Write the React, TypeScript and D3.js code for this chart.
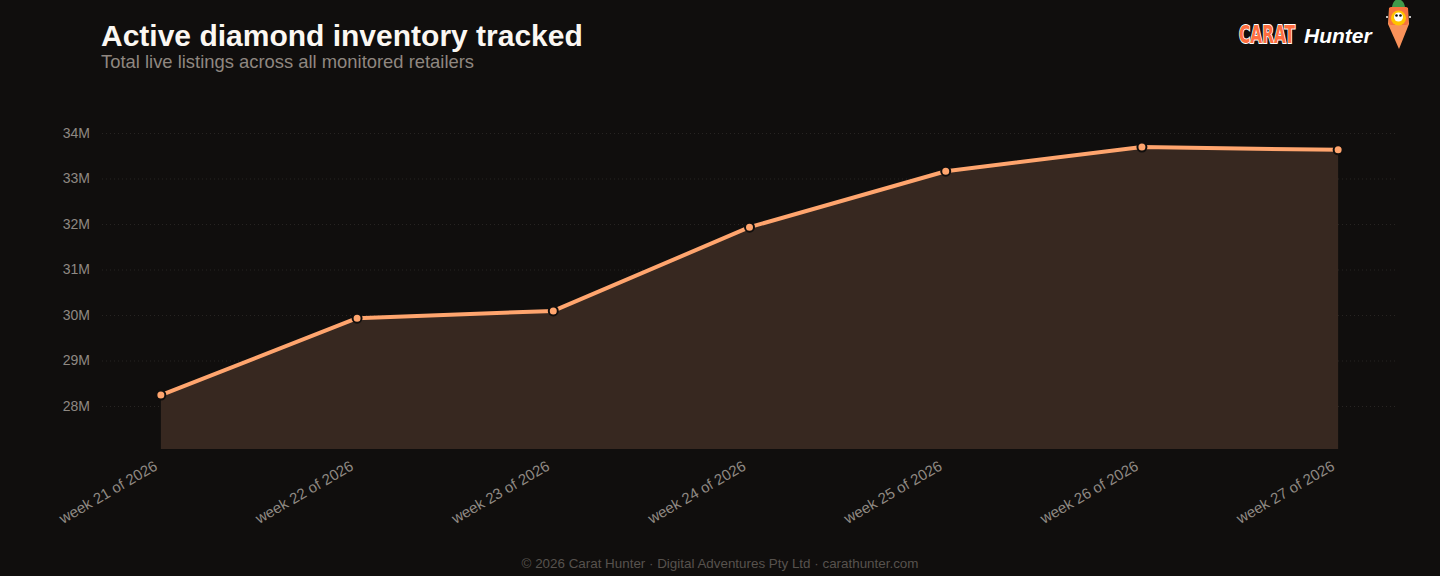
import React, { useEffect, useRef } from 'react';
import * as d3 from 'd3';

const weeks = [
    'week 21 of 2026',
    'week 22 of 2026',
    'week 23 of 2026',
    'week 24 of 2026',
    'week 25 of 2026',
    'week 26 of 2026',
    'week 27 of 2026',
];
const listings = [28.24e6, 29.93e6, 30.09e6, 31.93e6, 33.16e6, 33.69e6, 33.63e6];
const yTicks = [28e6, 29e6, 30e6, 31e6, 32e6, 33e6, 34e6];

const BG = '#100e0d';
const ACCENT = '#ffa56e';

const App: React.FC = () => {
    const svgRef = useRef<SVGSVGElement | null>(null);

    useEffect(() => {
        document.body.style.margin = '0';
        const svg = d3.select(svgRef.current);
        svg.selectAll('*').remove();

        const width = 1440;
        const height = 576;
        const margin = { top: 100, right: 43, bottom: 127, left: 102 };
        const font = 'Liberation Sans, Arial, sans-serif';

        svg.append('rect').attr('width', width).attr('height', height).attr('fill', BG);

        const x = d3.scalePoint<string>()
            .domain(weeks)
            .range([margin.left, width - margin.right])
            .padding(0.3);

        const y = d3.scaleLinear()
            .domain([27.055e6, 34.725e6])
            .range([height - margin.bottom, margin.top]);

        // gridlines + y labels
        const yAxis = svg.append('g')
            .attr('transform', `translate(${margin.left},0)`)
            .call(d3.axisLeft(y)
                .tickValues(yTicks)
                .tickSize(-(width - margin.left - margin.right))
                .tickPadding(12)
                .tickFormat(d => `${(d as number) / 1e6}M`));
        yAxis.select('.domain').remove();
        yAxis.selectAll('line')
            .attr('stroke', '#282523')
            .attr('stroke-dasharray', '1,3');
        yAxis.selectAll('text')
            .attr('fill', '#8f8983')
            .attr('font-family', font)
            .attr('font-size', 14);

        // area + line
        const pts = weeks.map((w, i) => ({ w, v: listings[i] }));
        const area = d3.area<{ w: string; v: number }>()
            .x(d => x(d.w)!)
            .y0(y.range()[0])
            .y1(d => y(d.v));
        svg.append('path')
            .datum(pts)
            .attr('d', area)
            .attr('fill', '#372820');

        const line = d3.line<{ w: string; v: number }>()
            .x(d => x(d.w)!)
            .y(d => y(d.v));
        svg.append('path')
            .datum(pts)
            .attr('d', line)
            .attr('fill', 'none')
            .attr('stroke', ACCENT)
            .attr('stroke-width', 4)
            .attr('stroke-linejoin', 'round');

        svg.append('g')
            .selectAll('circle')
            .data(pts)
            .enter()
            .append('circle')
            .attr('cx', d => x(d.w)!)
            .attr('cy', d => y(d.v))
            .attr('r', 4.5)
            .attr('fill', ACCENT)
            .attr('stroke', BG)
            .attr('stroke-width', 2);

        // x labels
        const xAxis = svg.append('g')
            .attr('transform', `translate(0,${height - margin.bottom})`)
            .call(d3.axisBottom(x).tickSize(0).tickPadding(0));
        xAxis.select('.domain').remove();
        xAxis.selectAll('text')
            .attr('fill', '#8f8983')
            .attr('font-family', font)
            .attr('font-size', 15)
            .attr('text-anchor', 'end')
            .attr('y', 0)
            .attr('dy', 0)
            .attr('transform', 'translate(-3,20) rotate(-30)');

        // title
        svg.append('text')
            .attr('x', 101).attr('y', 46)
            .attr('fill', '#fbf7f2')
            .attr('font-family', font)
            .attr('font-weight', 'bold')
            .attr('font-size', 30)
            .text('Active diamond inventory tracked');
        svg.append('text')
            .attr('x', 101).attr('y', 68)
            .attr('fill', '#8f8780')
            .attr('font-family', font)
            .attr('font-size', 18.4)
            .text('Total live listings across all monitored retailers');

        // footer
        svg.append('text')
            .attr('x', width / 2).attr('y', 568)
            .attr('text-anchor', 'middle')
            .attr('fill', '#57524d')
            .attr('font-family', font)
            .attr('font-size', 13.4)
            .text('© 2026 Carat Hunter · Digital Adventures Pty Ltd · carathunter.com');

        // logo: "CARAT" squeezed horizontally with a transform so its box stays tight
        const logo = svg.append('g');
        const carat = logo.append('text')
            .attr('x', 0).attr('y', 0)
            .attr('fill', '#ff6e40')
            .attr('stroke', '#ffffff')
            .attr('stroke-width', 2)
            .attr('paint-order', 'stroke')
            .attr('font-family', 'DejaVu Sans Condensed, Liberation Sans Narrow, sans-serif')
            .attr('font-weight', 'bold')
            .attr('font-size', 25)
            .text('CARAT');
        const natural = (carat.node() as SVGTextElement).getComputedTextLength() || 80;
        carat.attr('transform', `translate(1239,43) scale(${56 / natural},1)`);
        logo.append('text')
            .attr('x', 1304).attr('y', 43)
            .attr('fill', '#ffffff')
            .attr('font-family', font)
            .attr('font-weight', 'bold')
            .attr('font-style', 'italic')
            .attr('font-size', 21)
            .text('Hunter');
        // carrot mascot
        logo.append('path')
            .attr('d', 'M1392,7 Q1393,0 1398,-1 Q1404,0 1405,7 Z')
            .attr('fill', '#3f9a4a');
        logo.append('path')
            .attr('d', 'M1389,8 L1408,8 L1409,24 L1399,49 L1388,24 Z')
            .attr('fill', '#f9925a');
        logo.append('rect')
            .attr('x', 1389).attr('y', 7).attr('width', 19).attr('height', 18).attr('rx', 2)
            .attr('fill', '#f7743e');
        logo.append('circle').attr('cx', 1398.5).attr('cy', 18).attr('r', 7.5).attr('fill', '#ffc400');
        logo.append('circle').attr('cx', 1398.5).attr('cy', 17).attr('r', 4.5).attr('fill', '#ffffff');
        logo.append('circle').attr('cx', 1396.5).attr('cy', 15.5).attr('r', 1.3).attr('fill', '#111');
        logo.append('circle').attr('cx', 1400.5).attr('cy', 15.5).attr('r', 1.3).attr('fill', '#111');
        logo.append('circle').attr('cx', 1387).attr('cy', 17).attr('r', 1).attr('fill', '#ffffff');
        logo.append('circle').attr('cx', 1410).attr('cy', 17).attr('r', 1).attr('fill', '#ffffff');
    }, []);

    return <svg ref={svgRef} width={1440} height={576} style={{ display: 'block' }}></svg>;
};

export default App;
